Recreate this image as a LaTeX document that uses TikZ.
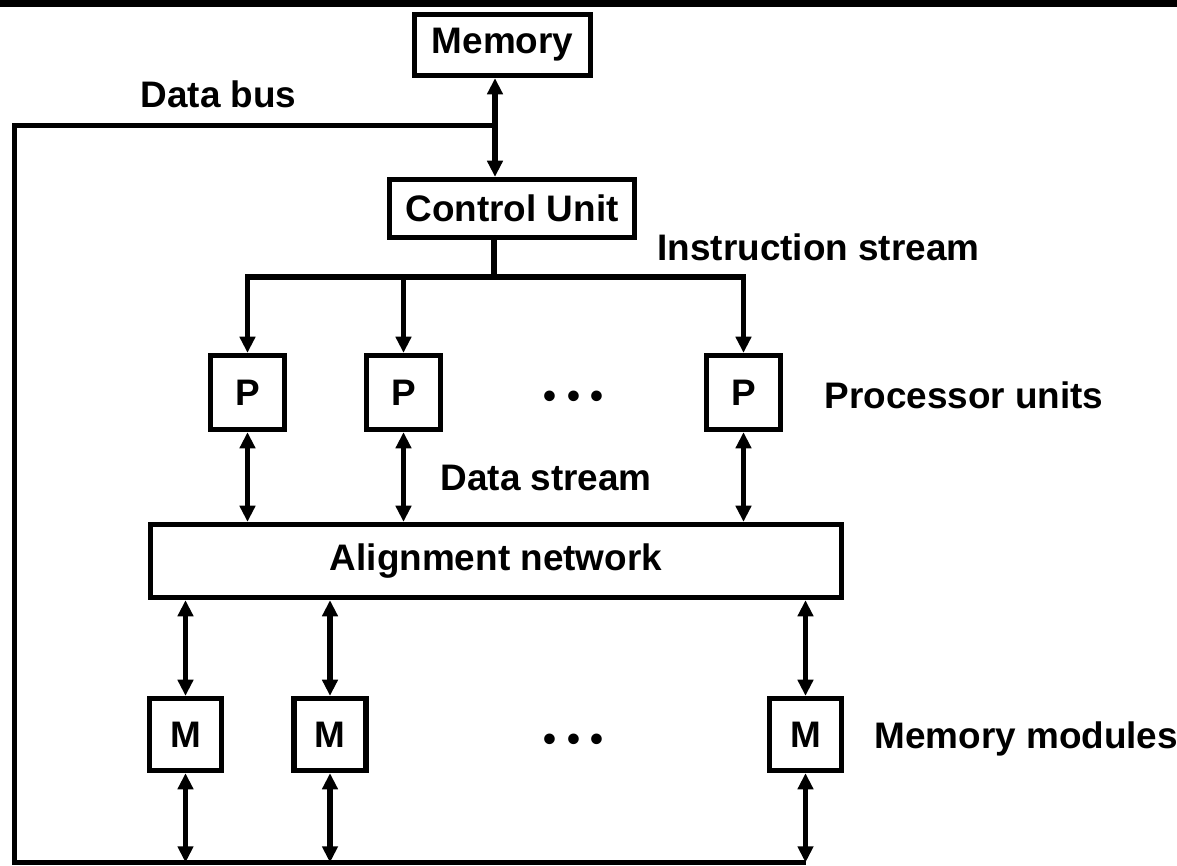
\documentclass[tikz,border=0pt]{standalone}
\usepackage{fontspec}
\setmainfont{Liberation Sans}
\usepackage{tikz}
\usetikzlibrary{arrows.meta}
\usetikzlibrary{positioning}
\tikzset{
	every path/.style = {line width=1.45pt},
	every node/.style = {font=\fontsize{10.5}{12}\selectfont\bfseries, inner sep=0pt},
	unit/.style = {draw, line width=1.5pt, fill=white},
	pbox/.style = {unit, minimum width=0.74cm, minimum height=0.74cm},
	mbox/.style = {unit, minimum width=0.72cm, minimum height=0.72cm},
	caption/.style = {anchor=base west}
}

\begin{document}
\begin{tikzpicture}[>={Triangle[length=4.6pt,width=4.3pt]}]
	\useasboundingbox (0,0) rectangle (11.77,-8.65);
	\fill (0,0) rectangle (11.77,-0.07);
	\node (mem) [unit, minimum width=1.76cm, minimum height=0.61cm] at (5.025,-0.45) {Memory};
	\node (cu) [unit, minimum width=2.45cm, minimum height=0.58cm] at (5.12,-2.085) {Control Unit};
	\node (p1) [pbox] at (2.475,-3.925) {P};
	\node (p2) [pbox] at (4.035,-3.925) {P};
	\node (p3) [pbox] at (7.435,-3.925) {P};
	\node (pdots) [anchor=base] at (5.735,-4.08) {• • •};
	\node (align) [unit, minimum width=6.91cm, minimum height=0.73cm] at (4.96,-5.61) {Alignment network};
	\node (m1) [mbox] at (1.855,-7.345) {M};
	\node (m2) [mbox] at (3.30,-7.345) {M};
	\node (m3) [mbox] at (8.055,-7.345) {M};
	\node (mdots) [anchor=base] at (5.735,-7.51) {• • •};
	\node (lbus) [caption] at (1.38,-1.07) {Data bus};
	\node (linstr) [caption] at (6.55,-2.60) {Instruction stream};
	\node (lproc) [caption] at (8.22,-4.08) {Processor units};
	\node (ldata) [caption] at (4.38,-4.90) {Data stream};
	\node (lmods) [caption] at (8.72,-7.48) {Memory modules};
	\coordinate (bus) at (4.95,-1.255);
	\coordinate (ib) at (4.94,-2.77);
	\coordinate (corner) at (0.145,-8.625);
	\draw[<->] (mem.south -| bus) -- (cu.north -| bus);
	\draw (bus) -| (corner) -- (corner -| m3.south);
	\draw (cu.south -| ib) -- (ib);
	\foreach \p in {p1,p2,p3} {
		\draw[->] (ib) -| (\p);
		\draw[<->] (\p) -- (\p |- align.north);
	}
	\foreach \m in {m1,m2,m3} {
		\draw[<->] (\m |- align.south) -- (\m);
		\draw[<->] (\m) -- (\m |- corner);
	}
\end{tikzpicture}
\end{document}
